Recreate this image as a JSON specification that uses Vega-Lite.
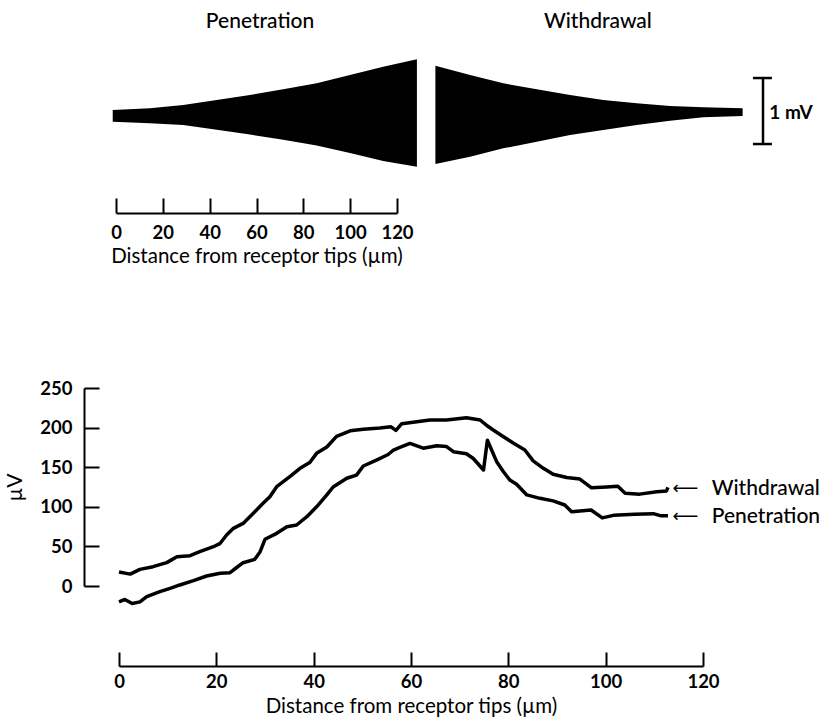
{
  "$schema": "https://vega.github.io/schema/vega-lite/v6.json",
  "width": 825,
  "height": 725,
  "autosize": "none",
  "padding": 0,
  "background": "white",
  "config": {"view": {"stroke": null}, "font": "Lato"},
  "datasets": {
    "envelope": [
      {"series": "Penetration", "t": -1.4, "hi": 0.061, "lo": -0.117},
      {"series": "Penetration", "t": 14.5, "hi": 0.086, "lo": -0.141},
      {"series": "Penetration", "t": 28.7, "hi": 0.136, "lo": -0.167},
      {"series": "Penetration", "t": 43.0, "hi": 0.212, "lo": -0.238},
      {"series": "Penetration", "t": 57.2, "hi": 0.288, "lo": -0.311},
      {"series": "Penetration", "t": 71.4, "hi": 0.374, "lo": -0.389},
      {"series": "Penetration", "t": 85.7, "hi": 0.465, "lo": -0.479},
      {"series": "Penetration", "t": 99.9, "hi": 0.591, "lo": -0.591},
      {"series": "Penetration", "t": 114.1, "hi": 0.717, "lo": -0.712},
      {"series": "Penetration", "t": 128.5, "hi": 0.829, "lo": -0.798},
      {"series": "Withdrawal", "t": 136.4, "hi": 0.732, "lo": -0.758},
      {"series": "Withdrawal", "t": 151.2, "hi": 0.591, "lo": -0.647},
      {"series": "Withdrawal", "t": 165.4, "hi": 0.465, "lo": -0.52},
      {"series": "Withdrawal", "t": 179.7, "hi": 0.374, "lo": -0.42},
      {"series": "Withdrawal", "t": 193.9, "hi": 0.288, "lo": -0.318},
      {"series": "Withdrawal", "t": 208.1, "hi": 0.212, "lo": -0.242},
      {"series": "Withdrawal", "t": 222.4, "hi": 0.162, "lo": -0.167},
      {"series": "Withdrawal", "t": 236.6, "hi": 0.121, "lo": -0.102},
      {"series": "Withdrawal", "t": 250.8, "hi": 0.102, "lo": -0.05},
      {"series": "Withdrawal", "t": 267.6, "hi": 0.086, "lo": -0.03}
    ],
    "scalebar": [{"t": 276.3, "hi": 0.545, "lo": -0.455}],
    "caps": [
      {"t": 272.0, "t2": 280.1, "hi": 0.545},
      {"t": 272.0, "t2": 280.1, "hi": -0.455}
    ],
    "scalelabel": [{"t": 279.0, "hi": 0.015, "label": "1 mV"}],
    "toptitles": [
      {"t": 61.5, "hi": 1.394, "label": "Penetration"},
      {"t": 205.8, "hi": 1.394, "label": "Withdrawal"}
    ],
    "traces": [
      {"series": "Withdrawal", "d": 0.0, "v": 17.7},
      {"series": "Withdrawal", "d": 2.3, "v": 15},
      {"series": "Withdrawal", "d": 4.3, "v": 21},
      {"series": "Withdrawal", "d": 7.0, "v": 24.4},
      {"series": "Withdrawal", "d": 9.8, "v": 29.5},
      {"series": "Withdrawal", "d": 11.9, "v": 37},
      {"series": "Withdrawal", "d": 14.6, "v": 38.3},
      {"series": "Withdrawal", "d": 16.6, "v": 43.3},
      {"series": "Withdrawal", "d": 19.4, "v": 49.6},
      {"series": "Withdrawal", "d": 20.8, "v": 53.9},
      {"series": "Withdrawal", "d": 22.1, "v": 64.4},
      {"series": "Withdrawal", "d": 23.5, "v": 72.8},
      {"series": "Withdrawal", "d": 25.5, "v": 79},
      {"series": "Withdrawal", "d": 27.6, "v": 91.8},
      {"series": "Withdrawal", "d": 29.6, "v": 104.4},
      {"series": "Withdrawal", "d": 31.0, "v": 112.8},
      {"series": "Withdrawal", "d": 32.4, "v": 125.4},
      {"series": "Withdrawal", "d": 35.1, "v": 138},
      {"series": "Withdrawal", "d": 37.2, "v": 148.6},
      {"series": "Withdrawal", "d": 39.2, "v": 156},
      {"series": "Withdrawal", "d": 40.6, "v": 167.5},
      {"series": "Withdrawal", "d": 42.7, "v": 175.5},
      {"series": "Withdrawal", "d": 44.7, "v": 189},
      {"series": "Withdrawal", "d": 47.5, "v": 196},
      {"series": "Withdrawal", "d": 50.2, "v": 197.8},
      {"series": "Withdrawal", "d": 53.6, "v": 199.5},
      {"series": "Withdrawal", "d": 55.9, "v": 201},
      {"series": "Withdrawal", "d": 56.9, "v": 196.5},
      {"series": "Withdrawal", "d": 58.1, "v": 205},
      {"series": "Withdrawal", "d": 61.2, "v": 207.5},
      {"series": "Withdrawal", "d": 63.9, "v": 209.6},
      {"series": "Withdrawal", "d": 67.3, "v": 209.6},
      {"series": "Withdrawal", "d": 71.4, "v": 212.5},
      {"series": "Withdrawal", "d": 74.2, "v": 209.6},
      {"series": "Withdrawal", "d": 75.5, "v": 203},
      {"series": "Withdrawal", "d": 76.9, "v": 197},
      {"series": "Withdrawal", "d": 79.0, "v": 188.5},
      {"series": "Withdrawal", "d": 81.0, "v": 180.5},
      {"series": "Withdrawal", "d": 83.4, "v": 171.7},
      {"series": "Withdrawal", "d": 85.1, "v": 158},
      {"series": "Withdrawal", "d": 87.2, "v": 148.6},
      {"series": "Withdrawal", "d": 89.2, "v": 141},
      {"series": "Withdrawal", "d": 92.0, "v": 137},
      {"series": "Withdrawal", "d": 94.7, "v": 135},
      {"series": "Withdrawal", "d": 97.1, "v": 124},
      {"series": "Withdrawal", "d": 100.2, "v": 125},
      {"series": "Withdrawal", "d": 102.5, "v": 126},
      {"series": "Withdrawal", "d": 104.0, "v": 117},
      {"series": "Withdrawal", "d": 107.0, "v": 116},
      {"series": "Withdrawal", "d": 110.5, "v": 119},
      {"series": "Withdrawal", "d": 112.5, "v": 120},
      {"series": "Withdrawal", "d": 112.8, "v": 124.6},
      {"series": "Penetration", "d": 0.0, "v": -20},
      {"series": "Penetration", "d": 1.2, "v": -17},
      {"series": "Penetration", "d": 2.7, "v": -22},
      {"series": "Penetration", "d": 4.3, "v": -20},
      {"series": "Penetration", "d": 5.7, "v": -13.5},
      {"series": "Penetration", "d": 8.4, "v": -7.2},
      {"series": "Penetration", "d": 10.5, "v": -3},
      {"series": "Penetration", "d": 12.5, "v": 1.3},
      {"series": "Penetration", "d": 15.3, "v": 6.7},
      {"series": "Penetration", "d": 18.0, "v": 12.6},
      {"series": "Penetration", "d": 20.8, "v": 16},
      {"series": "Penetration", "d": 22.8, "v": 16.8},
      {"series": "Penetration", "d": 23.5, "v": 20.2},
      {"series": "Penetration", "d": 25.5, "v": 29.4},
      {"series": "Penetration", "d": 27.9, "v": 33.7},
      {"series": "Penetration", "d": 29.0, "v": 43.3},
      {"series": "Penetration", "d": 30.0, "v": 59},
      {"series": "Penetration", "d": 32.4, "v": 66.5},
      {"series": "Penetration", "d": 34.5, "v": 74.9},
      {"series": "Penetration", "d": 36.5, "v": 77},
      {"series": "Penetration", "d": 38.6, "v": 87.5},
      {"series": "Penetration", "d": 40.6, "v": 100},
      {"series": "Penetration", "d": 42.7, "v": 115},
      {"series": "Penetration", "d": 44.0, "v": 125},
      {"series": "Penetration", "d": 46.8, "v": 136},
      {"series": "Penetration", "d": 48.8, "v": 140},
      {"series": "Penetration", "d": 50.2, "v": 151.5},
      {"series": "Penetration", "d": 52.9, "v": 159},
      {"series": "Penetration", "d": 55.3, "v": 166},
      {"series": "Penetration", "d": 56.4, "v": 171.7},
      {"series": "Penetration", "d": 57.7, "v": 175},
      {"series": "Penetration", "d": 59.8, "v": 180},
      {"series": "Penetration", "d": 62.5, "v": 174},
      {"series": "Penetration", "d": 65.3, "v": 177},
      {"series": "Penetration", "d": 67.3, "v": 176},
      {"series": "Penetration", "d": 68.7, "v": 169.6},
      {"series": "Penetration", "d": 71.4, "v": 167},
      {"series": "Penetration", "d": 72.8, "v": 161},
      {"series": "Penetration", "d": 74.9, "v": 146.5},
      {"series": "Penetration", "d": 75.7, "v": 184},
      {"series": "Penetration", "d": 77.6, "v": 157},
      {"series": "Penetration", "d": 79.0, "v": 144.3},
      {"series": "Penetration", "d": 80.3, "v": 133.8},
      {"series": "Penetration", "d": 81.7, "v": 128.5},
      {"series": "Penetration", "d": 83.8, "v": 115},
      {"series": "Penetration", "d": 86.5, "v": 110.7},
      {"series": "Penetration", "d": 89.2, "v": 107.5},
      {"series": "Penetration", "d": 91.6, "v": 102.3},
      {"series": "Penetration", "d": 93.0, "v": 93.8},
      {"series": "Penetration", "d": 97.0, "v": 96},
      {"series": "Penetration", "d": 99.3, "v": 86},
      {"series": "Penetration", "d": 101.6, "v": 89.2},
      {"series": "Penetration", "d": 106.0, "v": 90.7},
      {"series": "Penetration", "d": 109.8, "v": 91.3},
      {"series": "Penetration", "d": 111.2, "v": 88.8},
      {"series": "Penetration", "d": 112.8, "v": 88.6}
    ],
    "arrows": [
      {"d": 116.4, "v": 122.5, "label": "⟵"},
      {"d": 116.4, "v": 87.1, "label": "⟵"}
    ],
    "tracelabels": [
      {"d": 121.8, "v": 122.5, "label": "Withdrawal"},
      {"d": 121.8, "v": 87.1, "label": "Penetration"}
    ]
  },
  "layer": [
    {
      "data": {"name": "envelope"},
      "mark": {"type": "area", "color": "black", "opacity": 1},
      "encoding": {
        "x": {
          "field": "t", "type": "quantitative",
          "scale": {"domain": [0, 120], "range": [116, 397], "nice": false, "zero": false},
          "axis": {
            "orient": "bottom", "offset": -512, "values": [0, 20, 40, 60, 80, 100, 120],
            "grid": false, "tickSize": -15, "tickWidth": 2, "tickColor": "black",
            "domainColor": "black", "domainWidth": 2, "labelFlush": false,
            "labelPadding": 25, "labelFontSize": 18.5, "labelFontWeight": "bold", "labelColor": "black",
            "title": "Distance from receptor tips (µm)", "titleFontSize": 20.5, "titleFontWeight": "normal",
            "titleColor": "black", "titlePadding": 5
          }
        },
        "y": {
          "field": "hi", "type": "quantitative",
          "scale": {"domain": [-1, 1], "range": [180, 48], "nice": false, "zero": false},
          "axis": null
        },
        "y2": {"field": "lo"},
        "detail": {"field": "series"}
      }
    },
    {
      "data": {"name": "scalebar"},
      "mark": {"type": "rule", "color": "black", "strokeWidth": 2.5},
      "encoding": {
        "x": {"field": "t", "type": "quantitative", "scale": {"domain": [0, 120], "range": [116, 397], "nice": false, "zero": false}, "axis": null},
        "y": {"field": "hi", "type": "quantitative", "scale": {"domain": [-1, 1], "range": [180, 48], "nice": false, "zero": false}, "axis": null},
        "y2": {"field": "lo"}
      }
    },
    {
      "data": {"name": "caps"},
      "mark": {"type": "rule", "color": "black", "strokeWidth": 2.5},
      "encoding": {
        "x": {"field": "t", "type": "quantitative", "scale": {"domain": [0, 120], "range": [116, 397], "nice": false, "zero": false}, "axis": null},
        "x2": {"field": "t2"},
        "y": {"field": "hi", "type": "quantitative", "scale": {"domain": [-1, 1], "range": [180, 48], "nice": false, "zero": false}, "axis": null}
      }
    },
    {
      "data": {"name": "scalelabel"},
      "mark": {"type": "text", "align": "left", "baseline": "middle", "fontSize": 19, "fontWeight": "bold", "color": "black"},
      "encoding": {
        "x": {"field": "t", "type": "quantitative", "scale": {"domain": [0, 120], "range": [116, 397], "nice": false, "zero": false}, "axis": null},
        "y": {"field": "hi", "type": "quantitative", "scale": {"domain": [-1, 1], "range": [180, 48], "nice": false, "zero": false}, "axis": null},
        "text": {"field": "label"}
      }
    },
    {
      "data": {"name": "toptitles"},
      "mark": {"type": "text", "align": "center", "baseline": "middle", "fontSize": 21, "fontWeight": 500, "color": "black"},
      "encoding": {
        "x": {"field": "t", "type": "quantitative", "scale": {"domain": [0, 120], "range": [116, 397], "nice": false, "zero": false}, "axis": null},
        "y": {"field": "hi", "type": "quantitative", "scale": {"domain": [-1, 1], "range": [180, 48], "nice": false, "zero": false}, "axis": null},
        "text": {"field": "label"}
      }
    },
    {
      "data": {"name": "traces"},
      "mark": {"type": "line", "color": "black", "strokeWidth": 3.5, "strokeJoin": "round"},
      "encoding": {
        "x": {
          "field": "d", "type": "quantitative",
          "scale": {"domain": [0, 120], "range": [119, 703], "nice": false, "zero": false},
          "axis": {
            "orient": "bottom", "offset": -59, "values": [0, 20, 40, 60, 80, 100, 120],
            "grid": false, "tickSize": -14, "tickWidth": 2, "tickColor": "black",
            "domainColor": "black", "domainWidth": 2, "labelFlush": false,
            "labelPadding": 20, "labelFontSize": 18.5, "labelFontWeight": "bold", "labelColor": "black",
            "title": "Distance from receptor tips (µm)", "titleFontSize": 20.5, "titleFontWeight": "normal",
            "titleColor": "black", "titlePadding": 6
          }
        },
        "y": {
          "field": "v", "type": "quantitative",
          "scale": {"domain": [0, 250], "range": [586, 388], "nice": false, "zero": false},
          "axis": {
            "orient": "left", "offset": -84, "values": [0, 50, 100, 150, 200, 250],
            "grid": false, "tickSize": -15, "tickWidth": 2, "tickColor": "black",
            "domainColor": "black", "domainWidth": 2, "labelFlush": false,
            "labelPadding": 27, "labelFontSize": 18.5, "labelFontWeight": "bold", "labelColor": "black",
            "title": "µV", "titleFontSize": 21, "titleFontWeight": "normal",
            "titleColor": "black", "titlePadding": 14
          }
        },
        "detail": {"field": "series"}
      }
    },
    {
      "data": {"name": "arrows"},
      "mark": {"type": "text", "align": "center", "baseline": "middle", "fontSize": 18, "font": "DejaVu Sans", "color": "black"},
      "encoding": {
        "x": {"field": "d", "type": "quantitative", "scale": {"domain": [0, 120], "range": [119, 703], "nice": false, "zero": false}, "axis": null},
        "y": {"field": "v", "type": "quantitative", "scale": {"domain": [0, 250], "range": [586, 388], "nice": false, "zero": false}, "axis": null},
        "text": {"field": "label"}
      }
    },
    {
      "data": {"name": "tracelabels"},
      "mark": {"type": "text", "align": "left", "baseline": "middle", "fontSize": 21, "fontWeight": 500, "color": "black"},
      "encoding": {
        "x": {"field": "d", "type": "quantitative", "scale": {"domain": [0, 120], "range": [119, 703], "nice": false, "zero": false}, "axis": null},
        "y": {"field": "v", "type": "quantitative", "scale": {"domain": [0, 250], "range": [586, 388], "nice": false, "zero": false}, "axis": null},
        "text": {"field": "label"}
      }
    }
  ],
  "resolve": {
    "scale": {"x": "independent", "y": "independent"},
    "axis": {"x": "independent", "y": "independent"}
  }
}
